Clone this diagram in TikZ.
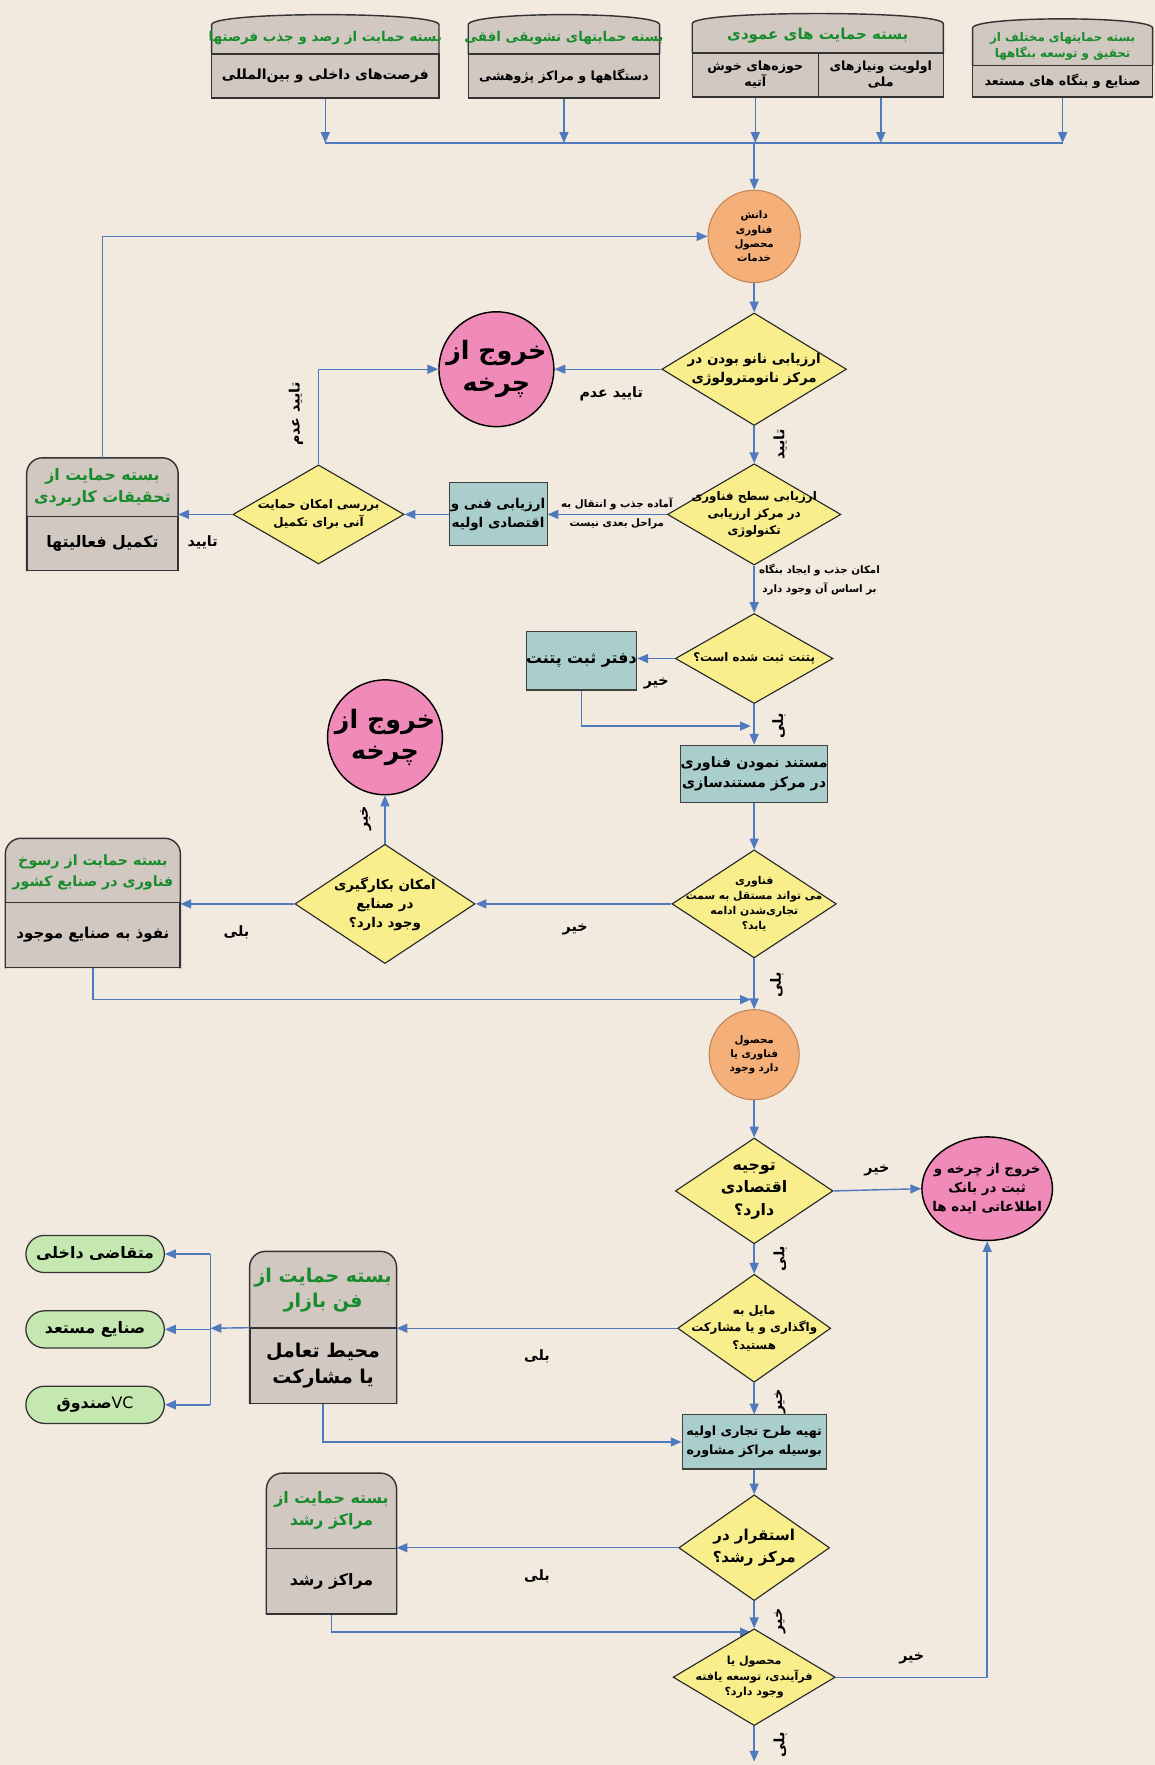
\documentclass[tikz,border=0pt]{standalone}
\usepackage{fontspec}
\usetikzlibrary{shapes.geometric,shapes.misc,arrows.meta}

\newfontfamily\fafont[Script=Arabic]{DejaVu Sans}
\TeXXeTstate=1
\newcommand{\fa}[1]{\beginR #1\endR}

\definecolor{pagebg}{RGB}{242,234,223}
\definecolor{pkggray}{RGB}{208,200,193}
\definecolor{pkggreen}{RGB}{24,140,44}
\definecolor{dyellow}{RGB}{248,238,140}
\definecolor{boxteal}{RGB}{170,206,204}
\definecolor{knoworange}{RGB}{245,176,122}
\definecolor{knowedge}{RGB}{196,134,88}
\definecolor{exitpink}{RGB}{240,138,184}
\definecolor{ovalgreen}{RGB}{196,232,176}
\definecolor{arrowblue}{RGB}{80,122,190}

\tikzset{
  flow/.style={draw=arrowblue, line width=0.9pt, -{Triangle[length=2.4mm,width=2mm]}},
  link/.style={draw=arrowblue, line width=0.9pt},
  decision/.style={diamond, draw=black!85, line width=0.7pt, fill=dyellow, inner sep=0pt},
  dtext/.style={align=center, font=\fafont\bfseries\fontsize{8.5}{12}\selectfont},
  startnode/.style={circle, draw=knowedge, line width=0.7pt, fill=knoworange, inner sep=0pt,
    align=center, font=\fafont\bfseries\fontsize{6.5}{9}\selectfont},
  exitnode/.style={circle, draw=black, line width=0.9pt, fill=exitpink, inner sep=0pt,
    align=center, font=\fafont\bfseries\fontsize{16}{20}\selectfont},
  process/.style={rectangle, draw=black!75, line width=0.7pt, fill=boxteal, inner sep=0pt,
    align=center, font=\fafont\bfseries\fontsize{8.5}{12}\selectfont},
  pkgframe/.style={rectangle, inner sep=0pt},
  pkgshape/.style={fill=pkggray, draw=black!80, line width=0.9pt, rounded corners=3.5mm},
  topshape/.style={fill=pkggray, draw=black!80, line width=0.9pt},
  pkgbody/.style={rectangle, draw=black!80, line width=0.9pt, fill=pkggray, inner sep=0pt,
    align=center, font=\fafont\bfseries\fontsize{10}{14}\selectfont},
  topbody/.style={font=\fafont\bfseries\fontsize{8}{10}\selectfont},
  pkgtitle/.style={align=center, text=pkggreen, font=\fafont\bfseries\fontsize{10}{14}\selectfont},
  toptitle/.style={align=center, text=pkggreen, font=\fafont\bfseries\fontsize{8.5}{10}\selectfont},
  goal/.style={rounded rectangle, draw=black!80, line width=0.8pt, fill=ovalgreen, inner sep=0pt,
    font=\fafont\bfseries\fontsize{10}{12}\selectfont},
  lbl/.style={font=\fafont\bfseries\fontsize{9}{11}\selectfont},
  note/.style={align=center, font=\fafont\bfseries\fontsize{6.5}{12}\selectfont},
}

\begin{document}
\begin{tikzpicture}[x=0.25mm,y=-0.25mm]
  \useasboundingbox (0,0) rectangle (1026,1568);
  \fill[pagebg] (0,0) rectangle (1026,1568);

  % support packages along the top
  \filldraw[topshape] (188,48) -- (188,22) .. controls (188,10) and (390,10) .. (390,22) -- (390,48);
  \node[pkgbody, topbody, font=\fafont\bfseries\fontsize{8.8}{10}\selectfont, minimum width=50.5mm, minimum height=9.75mm] (oppb) at (289,67.5) {\fa{فرصت‌های داخلی و بین‌المللی}};
  \node[toptitle] (oppt) at (289,34) {\fa{بسته حمایت از رصد و جذب  فرصتها}};

  \filldraw[topshape] (416,48) -- (416,22) .. controls (416,10) and (586,10) .. (586,22) -- (586,48);
  \node[pkgbody, topbody, minimum width=42.5mm, minimum height=9.75mm] (horb) at (501,67.5) {\fa{دستگاهها و مراکز پژوهشی}};
  \node[toptitle] (hort) at (501,34) {\fa{بسته حمایتهای تشویقی افقی}};

  \filldraw[topshape] (615,47) -- (615,21) .. controls (615,9) and (838,9) .. (838,21) -- (838,47);
  \node[pkgbody, topbody, minimum width=28mm, minimum height=9.75mm] (vertl) at (671,66.5) {\fa{حوزه‌های خوش}\\\fa{آتیه}};
  \node[pkgbody, topbody, minimum width=27.75mm, minimum height=9.75mm] (vertr) at (782.5,66.5) {\fa{اولویت ونیازهای}\\\fa{ملی}};
  \node[toptitle, font=\fafont\bfseries\fontsize{9.5}{11}\selectfont] (vertt) at (726.5,32) {\fa{بسته حمایت های عمودی}};

  \filldraw[topshape] (864,58) -- (864,25) .. controls (864,14) and (1024,14) .. (1024,25) -- (1024,58);
  \node[pkgbody, topbody, minimum width=40mm, minimum height=7mm] (rndb) at (944,72) {\fa{صنایع و بنگاه های مستعد}};
  \node[toptitle, font=\fafont\bfseries\fontsize{7.5}{10}\selectfont] (rndt) at (944,41) {\fa{بسته حمایتهای مختلف از}\\\fa{تحقیق و توسعه بنگاهها}};

  \coordinate (busL) at (289,127);
  \coordinate (busR) at (944,127);
  \draw[link] (busL) -- (busR);
  \foreach \b in {oppb,horb,vertl,vertr,rndb}
    \draw[flow] (\b.south) -- (\b.south |- busL);

  % knowledge / technology input
  \node[startnode, minimum size=20.5mm] (know) at (670,210) {\fa{دانش}\\\fa{فناوری}\\\fa{محصول}\\\fa{خدمات}};
  \draw[flow] (know |- busL) -- (know);

  \node[decision, minimum width=41mm, minimum height=25mm] (nano) at (670,328) {};
  \node[dtext] (nanot) at (nano) {\fa{ارزیابی نانو بودن در}\\\fa{مرکز نانومترولوژی}};
  \draw[flow] (know) -- (nano);

  \node[exitnode, minimum size=23.5mm] (exitA) at (441,328) {\fa{خروج از}\\\fa{چرخه}};
  \draw[flow] (nano.west) -- (exitA.east);
  \node[lbl] (noA) at (543,350) {\fa{تایید عدم}};

  \node[decision, minimum width=38.5mm, minimum height=22.5mm] (level) at (670,457) {};
  \node[dtext, font=\fafont\bfseries\fontsize{7.5}{10.5}\selectfont] (levelt) at (level) {\fa{ارزیابی سطح فناوری}\\\fa{در مرکز ارزیابی}\\\fa{تکنولوژی}};
  \draw[flow] (nano) -- (level);
  \node[lbl, rotate=90] (okA) at (693,395) {\fa{تایید}};

  \node[process, minimum width=21.75mm, minimum height=14mm] (tecev) at (442.5,457) {\fa{ارزیابی فنی و}\\\fa{اقتصادی اولیه}};
  \draw[flow] (level.west) -- (tecev.east);
  \node[note] (notready) at (548,456) {\fa{آماده جذب و انتقال به}\\\fa{مراحل بعدی نیست}};

  \node[decision, minimum width=38mm, minimum height=22mm] (supp) at (283,457) {};
  \node[dtext, font=\fafont\bfseries\fontsize{7.5}{11}\selectfont] (suppt) at (supp) {\fa{بررسی امکان حمایت}\\\fa{آنی برای تکمیل}};
  \draw[flow] (tecev) -- (supp);
  \draw[flow] (supp.north) |- (exitA.west);
  \node[lbl, rotate=90] (noB) at (263,368) {\fa{تایید عدم}};

  % applied research package
  \node[pkgframe, minimum width=33.5mm, minimum height=25mm] (apres) at (91,457) {};
  \filldraw[pkgshape] (apres.south west) -- (apres.north west) -- (apres.north east) -- (apres.south east);
  \node[pkgbody, minimum width=33.5mm, minimum height=12mm, anchor=south] (apresb) at (apres.south) {\fa{تکمیل فعالیتها}};
  \node[pkgtitle] (aprest) at (91,433) {\fa{بسته حمایت از}\\\fa{تحقیقات کاربردی}};
  \draw[flow] (supp.west) -- (supp.west -| apres.east);
  \node[lbl] (okB) at (180,482) {\fa{تایید}};
  \draw[flow] (apres.north) |- (know.west);

  % patent
  \node[decision, minimum width=35mm, minimum height=20mm] (patent) at (670,585) {};
  \node[dtext, font=\fafont\bfseries\fontsize{7.5}{10}\selectfont] (patentt) at (patent) {\fa{پتنت ثبت شده است؟}};
  \draw[flow] (level) -- (patent);
  \node[note] (canA) at (728,515) {\fa{امکان جذب و ایجاد بنگاه}\\\fa{بر اساس آن وجود دارد}};

  \node[process, minimum width=24.25mm, minimum height=13mm, font=\fafont\bfseries\fontsize{10}{13}\selectfont] (patoff) at (516.5,587) {\fa{دفتر ثبت پتنت}};
  \draw[flow] (patent.west) -- (patent.west -| patoff.east);
  \node[lbl] (noC) at (583,607) {\fa{خیر}};
  \coordinate (mergeA) at (667,645);
  \draw[flow] (patoff.south) |- (mergeA);
  \node[lbl, rotate=90] (yesA) at (692,645) {\fa{بلی}};

  \node[process, minimum width=29.25mm, minimum height=12.75mm, font=\fafont\bfseries\fontsize{9}{12.5}\selectfont] (docu) at (670,687.5) {\fa{مستند نمودن فناوری}\\\fa{در مرکز مستندسازی}};
  \draw[flow] (patent) -- (docu);

  % commercialisation
  \node[decision, minimum width=36.5mm, minimum height=24mm] (comm) at (670,803) {};
  \node[dtext, font=\fafont\bfseries\fontsize{6.8}{9.5}\selectfont] (commt) at (comm) {\fa{فناوری}\\\fa{می تواند مستقل به سمت}\\\fa{تجاری‌شدن ادامه}\\\fa{یابد؟}};
  \draw[flow] (docu) -- (comm);

  \node[decision, minimum width=40mm, minimum height=26.5mm] (apply) at (342,803) {};
  \node[dtext] (applyt) at (apply) {\fa{امکان بکارگیری}\\\fa{در صنایع}\\\fa{وجود دارد؟}};
  \draw[flow] (comm) -- (apply);
  \node[lbl] (noD) at (511,826) {\fa{خیر}};

  \node[exitnode, minimum size=24mm] (exitB) at (342,655) {\fa{خروج از}\\\fa{چرخه}};
  \draw[flow] (apply) -- (exitB);
  \node[lbl, rotate=90] (noE) at (325,727) {\fa{خیر}};

  \node[pkgframe, minimum width=38.75mm, minimum height=28.75mm] (penet) at (82.5,802.5) {};
  \filldraw[pkgshape] (penet.south west) -- (penet.north west) -- (penet.north east) -- (penet.south east);
  \node[pkgbody, minimum width=38.75mm, minimum height=14.5mm, anchor=south, font=\fafont\bfseries\fontsize{9.5}{13}\selectfont] (penetb) at (penet.south) {\fa{نفوذ به صنایع موجود}};
  \node[pkgtitle, font=\fafont\bfseries\fontsize{9}{13}\selectfont] (penett) at (82.5,775) {\fa{بسته حمایت از رسوخ}\\\fa{فناوری در صنایع کشور}};
  \draw[flow] (apply.west) -- (apply.west -| penet.east);
  \node[lbl] (yesB) at (210,828) {\fa{بلی}};
  \coordinate (mergeB) at (667,888);
  \draw[flow] (penet.south) |- (mergeB);
  \node[lbl, rotate=90] (yesC) at (690,875) {\fa{بلی}};

  % product stage
  \node[startnode, minimum size=20mm] (prod) at (670,937) {\fa{محصول}\\\fa{فناوری یا}\\\fa{دارد وجود}};
  \draw[flow] (comm) -- (prod);

  \node[decision, minimum width=35mm, minimum height=23.5mm] (econ) at (670,1058) {};
  \node[dtext, font=\fafont\bfseries\fontsize{10}{14}\selectfont] (econt) at (econ) {\fa{توجیه}\\\fa{اقتصادی}\\\fa{دارد؟}};
  \draw[flow] (prod) -- (econ);

  \node[exitnode, ellipse, minimum width=29mm, minimum height=23mm] (exitC) at (877,1056) {};
  \node[dtext, font=\fafont\bfseries\fontsize{8.5}{12}\selectfont] (exitCt) at (exitC) {\fa{خروج از چرخه و}\\\fa{ثبت در بانک}\\\fa{اطلاعاتی ایده ها}};
  \draw[flow] (econ.east) -- (exitC.west);
  \node[lbl] (noF) at (779,1040) {\fa{خیر}};
  \node[lbl, rotate=90] (yesD) at (693,1118) {\fa{بلی}};

  \node[decision, minimum width=34mm, minimum height=24mm] (transfer) at (670,1180) {};
  \node[dtext, font=\fafont\bfseries\fontsize{7.5}{11}\selectfont] (transfert) at (transfer) {\fa{مایل به}\\\fa{واگذاری و یا مشارکت}\\\fa{هستید؟}};
  \draw[flow] (econ) -- (transfer);

  % technology market package
  \node[pkgframe, minimum width=32.5mm, minimum height=33.75mm] (market) at (287,1179.5) {};
  \filldraw[pkgshape] (market.south west) -- (market.north west) -- (market.north east) -- (market.south east);
  \node[pkgbody, minimum width=32.5mm, minimum height=16.75mm, anchor=south, font=\fafont\bfseries\fontsize{12}{16}\selectfont] (marketb) at (market.south) {\fa{محیط تعامل}\\\fa{یا مشارکت}};
  \node[pkgtitle, font=\fafont\bfseries\fontsize{12}{16}\selectfont] (markett) at (287,1146) {\fa{بسته حمایت از}\\\fa{فن بازار}};
  \draw[flow] (transfer.west) -- (transfer.west -| market.east);
  \node[lbl] (yesE) at (477,1205) {\fa{بلی}};

  \coordinate (hub) at (187,1180);
  \draw[flow] (market.west) -- (hub);
  \node[goal, minimum width=30.75mm, minimum height=8.25mm] (demand) at (84.5,1114) {\fa{متقاضی داخلی}};
  \node[goal, minimum width=30.75mm, minimum height=8.25mm] (industry) at (84.5,1181) {\fa{صنایع مستعد}};
  \node[goal, minimum width=30.75mm, minimum height=8.25mm] (vcfund) at (84.5,1248) {\fa{\beginL{\mdseries VC}\endL صندوق}};
  \draw[link] (hub |- demand) -- (hub |- vcfund);
  \foreach \g in {demand,industry,vcfund}
    \draw[flow] (hub |- \g) -- (\g.east);

  \node[process, minimum width=32mm, minimum height=12mm, font=\fafont\bfseries\fontsize{8}{12}\selectfont] (plan) at (670,1281) {\fa{تهیه طرح تجاری اولیه}\\\fa{بوسیله مراکز مشاوره}};
  \draw[flow] (transfer) -- (plan);
  \draw[flow] (market.south) |- (plan.west);
  \node[lbl, rotate=90] (noG) at (693,1245) {\fa{خیر}};

  % incubator
  \node[decision, minimum width=33.5mm, minimum height=23.5mm] (incub) at (670,1375) {};
  \node[dtext, font=\fafont\bfseries\fontsize{9.5}{14}\selectfont] (incubt) at (incub) {\fa{استقرار در}\\\fa{مرکز رشد؟}};
  \draw[flow] (plan) -- (incub);

  \node[pkgframe, minimum width=28.75mm, minimum height=31.25mm] (growth) at (294.5,1371.5) {};
  \filldraw[pkgshape] (growth.south west) -- (growth.north west) -- (growth.north east) -- (growth.south east);
  \node[pkgbody, minimum width=28.75mm, minimum height=14.5mm, anchor=south] (growthb) at (growth.south) {\fa{مراکز رشد}};
  \node[pkgtitle] (growtht) at (294.5,1342) {\fa{بسته حمایت از}\\\fa{مراکز رشد}};
  \draw[flow] (incub.west) -- (incub.west -| growth.east);
  \node[lbl] (yesF) at (477,1400) {\fa{بلی}};
  \coordinate (mergeC) at (667,1450);
  \draw[flow] (growth.south) |- (mergeC);
  \node[lbl, rotate=90] (noH) at (693,1440) {\fa{خیر}};

  \node[decision, minimum width=36mm, minimum height=21.5mm] (devel) at (670,1490) {};
  \node[dtext, font=\fafont\bfseries\fontsize{7}{10}\selectfont] (develt) at (devel) {\fa{محصول یا}\\\fa{فرآیندی، توسعه یافته}\\\fa{وجود دارد؟}};
  \draw[flow] (incub) -- (devel);
  \draw[flow] (devel.east) -| (exitC.south);
  \node[lbl] (noI) at (810,1473) {\fa{خیر}};
  \coordinate (next) at (670,1565);
  \draw[flow] (devel) -- (next);
  \node[lbl, rotate=90] (yesG) at (693,1550) {\fa{بلی}};
\end{tikzpicture}
\end{document}
